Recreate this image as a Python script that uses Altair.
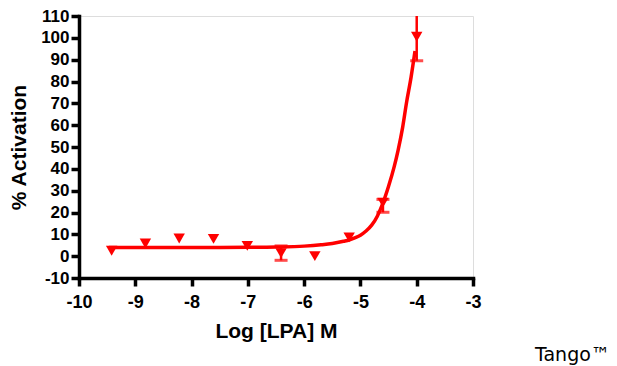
import altair as alt
import pandas as pd

# measured points (log concentration, % activation)
pt_x = [-9.42, -8.82, -8.22, -7.61, -7.01, -6.41, -5.81, -5.20, -4.60, -4.00]
pt_y = [2.5, 5.8, 8.1, 7.9, 4.7, 1.4, 0.0, 8.6, 24.5, 100.5]

# error bars
err_x = [-6.41, -4.60, -4.00]
err_lo = [-1.9, 20.1, 89.5]
err_hi = [4.7, 26.0, 111.5]

# fitted curve, points
cv_x = [-9.47, -8.5, -7.5, -7.0, -6.5, -6.0, -5.7, -5.5, -5.3, -5.2, -5.1, -5.0, -4.9,
        -4.8, -4.7, -4.62, -4.5, -4.4, -4.33, -4.25, -4.18, -4.1, -4.03]
cv_y = [4.0, 4.0, 4.0, 4.05, 4.2, 4.6, 5.2, 5.8, 6.8, 7.4, 8.4, 9.6, 11.5,
        14.2, 18.3, 23.0, 32.0, 41.0, 48.6, 59.0, 70.5, 82.0, 94.0]

x_ticks = [-10, -9, -8, -7, -6, -5, -4, -3]
y_ticks = [-10, 0, 10, 20, 30, 40, 50, 60, 70, 80, 90, 100, 110]
footer = ["Tango™"]

pts = pd.DataFrame({"x": pt_x, "y": pt_y})
err = pd.DataFrame({"x": err_x, "lo": err_lo, "hi": err_hi})
cv = pd.DataFrame({"x": cv_x, "y": cv_y})
ft = pd.DataFrame({"label": footer})

RED = "#FF0000"
FONT = "Liberation Sans"

xscale = alt.Scale(domain=[-10, -3], nice=False, zero=False)
yscale = alt.Scale(domain=[-10, 110], nice=False, zero=False)

xaxis = alt.Axis(
    title="Log [LPA] M", values=x_ticks, labelExpr="toString(datum.value)",
    labelPadding=7, labelFontSize=18, titleX=197, titleY=53,
)
yaxis = alt.Axis(
    title="% Activation", values=y_ticks, labelExpr="toString(datum.value)",
    labelPadding=2, labelFontSize=17, titleX=-60, titleY=131, titleAngle=270,
)

curve = alt.Chart(cv).mark_line(color=RED, strokeWidth=3.5, interpolate="monotone").encode(
    x=alt.X("x:Q", scale=xscale, axis=xaxis),
    y=alt.Y("y:Q", scale=yscale, axis=yaxis),
)

bars = alt.Chart(err).mark_rule(color=RED, strokeWidth=2.5, clip=True).encode(
    x=alt.X("x:Q", scale=xscale, axis=xaxis),
    y=alt.Y("lo:Q", scale=yscale, axis=yaxis),
    y2="hi:Q",
)

caps_lo = alt.Chart(err).mark_tick(color=RED, size=13, thickness=3, orient="horizontal", clip=True).encode(
    x=alt.X("x:Q", scale=xscale, axis=xaxis),
    y=alt.Y("lo:Q", scale=yscale, axis=yaxis),
)
caps_hi = alt.Chart(err).mark_tick(color=RED, size=13, thickness=3, orient="horizontal", clip=True).encode(
    x=alt.X("x:Q", scale=xscale, axis=xaxis),
    y=alt.Y("hi:Q", scale=yscale, axis=yaxis),
)

points = alt.Chart(pts).mark_point(shape="triangle-down", filled=True, color=RED, size=130, opacity=1).encode(
    x=alt.X("x:Q", scale=xscale, axis=xaxis),
    y=alt.Y("y:Q", scale=yscale, axis=yaxis),
)

foot = alt.Chart(ft).mark_text(align="left", baseline="alphabetic", font="DejaVu Sans",
                               fontSize=19, color="black").encode(
    x=alt.value(456), y=alt.value(345), text="label:N"
)

chart = alt.layer(bars, caps_lo, caps_hi, curve, points, foot).properties(
    width=394, height=262,
    autosize=alt.AutoSizeParams(type="none"),
    padding={"left": 71, "top": 8, "right": 136, "bottom": 88},
).configure_view(stroke=None).configure(background="white").configure_axis(
    grid=False, domainColor="black", domainWidth=3.5, domainCap="square",
    tickColor="black", tickWidth=3.5, tickSize=8,
    labelFont=FONT, labelFontWeight="bold", labelColor="black",
    labelFlush=False,
    titleFont=FONT, titleFontWeight="bold", titleFontSize=21, titleColor="black",
    titleBaseline="middle",
)

chart.save("out.html", embed_options={"renderer": "svg", "actions": False})
